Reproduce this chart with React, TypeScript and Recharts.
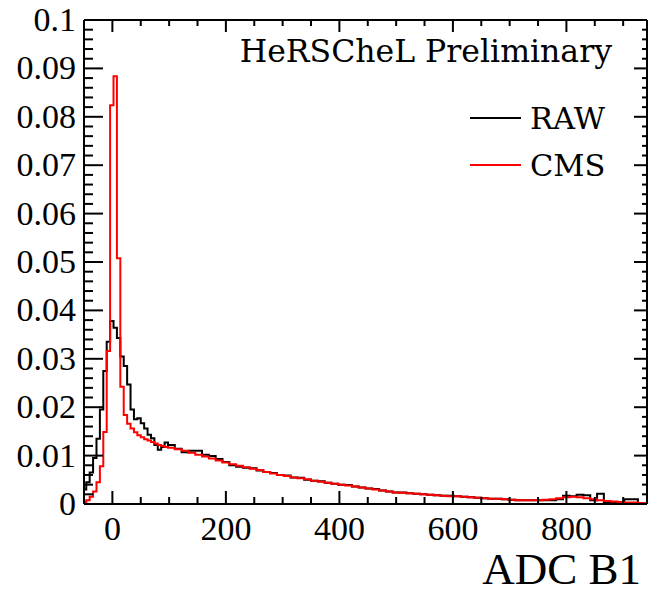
import { LineChart, Line, XAxis, YAxis } from 'recharts';

// bin left edges: 6-unit bins around the peak, 12-unit bins in the tail
const fineEdges = [-50, -46, -40, -34, -28, -22, -16, -10, -4, 2, 8, 14, 20, 26, 32, 38, 44, 50, 56, 62, 68, 74, 80, 86, 92];
const tailEdges = [
  98, 110, 122, 134, 146, 158, 170, 182, 194, 206, 218, 230, 242, 254, 266, 278, 290, 302, 314, 326,
  338, 350, 362, 374, 386, 398, 410, 422, 434, 446, 458, 470, 482, 494, 506, 518, 530, 542, 554, 566,
  578, 590, 602, 614, 626, 638, 650, 662, 674, 686, 698, 710, 722, 734, 746, 758, 770, 782, 794, 806,
  818, 830, 842, 854, 866, 878, 890, 902, 914, 926, 938,
];
const lastEdge = 942;

const rawFine = [
  0.003, 0.0045, 0.0065, 0.0095, 0.0135, 0.0195, 0.0275, 0.0335, 0.0378, 0.0364, 0.0343, 0.0305, 0.0285,
  0.0247, 0.0195, 0.0175, 0.0177, 0.0167, 0.0156, 0.0143, 0.0136, 0.0122, 0.0112, 0.0118, 0.0127,
];
const cmsFine = [
  0.0004, 0.0008, 0.0015, 0.0026, 0.0045, 0.0078, 0.0149, 0.0316, 0.0824, 0.0884, 0.0508, 0.0242, 0.0184,
  0.0166, 0.0156, 0.0148, 0.0142, 0.0138, 0.0134, 0.0131, 0.0128, 0.0125, 0.0122, 0.012, 0.0118,
];
const rawTail = [
  0.0122, 0.0114, 0.0107, 0.011, 0.011, 0.0102, 0.0099, 0.0093, 0.0087, 0.008,
  0.0077, 0.0075, 0.0074, 0.0069, 0.0066, 0.0064, 0.006, 0.0059, 0.0055, 0.0054,
  0.005, 0.0048, 0.0047, 0.0044, 0.0042, 0.004, 0.0039, 0.0036, 0.0034, 0.0032,
  0.0031, 0.0028, 0.0026, 0.0024, 0.0024, 0.0022, 0.0021, 0.002, 0.0019, 0.0018,
  0.0017, 0.0017, 0.0016, 0.0015, 0.0014, 0.0013, 0.0012, 0.0011, 0.0011, 0.001,
  0.0009, 0.0008, 0.0008, 0.0008, 0.0008, 0.0008, 0.0008, 0.001, 0.0017, 0.0016,
  0.0019, 0.0018, 0.0008, 0.0021, 0.0003, 0.0003, 0.0001, 0.001, 0.001, 0.0001,
  0.0001,
];
const cmsTail = [
  0.0116, 0.0113, 0.011, 0.0106, 0.0102, 0.0098, 0.0094, 0.009, 0.0086, 0.0082,
  0.0079, 0.0076, 0.0073, 0.007, 0.0066, 0.0063, 0.006, 0.0058, 0.0055, 0.0053,
  0.0051, 0.0048, 0.0046, 0.0044, 0.0042, 0.004, 0.0038, 0.0036, 0.0034, 0.0032,
  0.003, 0.0028, 0.0026, 0.0024, 0.0023, 0.0022, 0.0021, 0.002, 0.0019, 0.0018,
  0.0017, 0.0016, 0.0016, 0.0015, 0.0014, 0.0013, 0.0012, 0.0011, 0.0011, 0.001,
  0.0009, 0.0008, 0.0008, 0.0008, 0.0008, 0.0009, 0.001, 0.0012, 0.0014, 0.0015,
  0.0014, 0.0012, 0.001, 0.0008, 0.0006, 0.0005, 0.0004, 0.0003, 0.0003, 0.0002,
  0.0002,
];

const xMajor = [0, 200, 400, 600, 800];
const xTicks = [0, 50, 100, 150, 200, 250, 300, 350, 400, 450, 500, 550, 600, 650, 700, 750, 800, 850, 900];
const yLabels = ['0', '0.01', '0.02', '0.03', '0.04', '0.05', '0.06', '0.07', '0.08', '0.09', '0.1'];
const yTicks: number[] = [];
for (let i = 0; i <= 50; i++) yTicks.push(+(i * 0.002).toFixed(3));

const W = 652;
const H = 590;
const LEFT = 84;
const RIGHT = 647;
const TOP = 20;
const BOTTOM = 504;

const edges = [...fineEdges, ...tailEdges];
const raw = [...rawFine, ...rawTail];
const cms = [...cmsFine, ...cmsTail];
const rows = edges.map((x, i) => ({ x, raw: raw[i], cms: cms[i] }));
rows.push({ x: lastEdge, raw: raw[raw.length - 1], cms: cms[cms.length - 1] });

const serif = '"Liberation Serif", "Times New Roman", serif';
const dejavu = '"DejaVu Serif", serif';

const isYMajor = (v: number) => Math.round(v * 1000) % 10 === 0;

function BottomTick(props: any) {
  const { x, payload } = props;
  const major = xMajor.includes(payload.value);
  return (
    <g>
      <line x1={x} x2={x} y1={BOTTOM} y2={BOTTOM - (major ? 13 : 7)} stroke="#000" strokeWidth={2} />
      {major && (
        <text x={x} y={540} textAnchor="middle" fontFamily={serif} fontSize={34} fill="#000">
          {payload.value}
        </text>
      )}
    </g>
  );
}

function TopTick(props: any) {
  const { x, payload } = props;
  const major = xMajor.includes(payload.value);
  return <line x1={x} x2={x} y1={TOP} y2={TOP + (major ? 12 : 6)} stroke="#000" strokeWidth={2} />;
}

function LeftTick(props: any) {
  const { y, payload } = props;
  const major = isYMajor(payload.value);
  return (
    <g>
      <line x1={LEFT} x2={LEFT + (major ? 19 : 9)} y1={y} y2={y} stroke="#000" strokeWidth={2} />
      {major && (
        <text x={76} y={y + 11} textAnchor="end" fontFamily={serif} fontSize={34} fill="#000">
          {yLabels[Math.round(payload.value * 100)]}
        </text>
      )}
    </g>
  );
}

function RightTick(props: any) {
  const { y, payload } = props;
  const major = isYMajor(payload.value);
  return <line x1={RIGHT} x2={RIGHT - (major ? 13 : 5)} y1={y} y2={y} stroke="#000" strokeWidth={2} />;
}

const axisLine = { stroke: '#000', strokeWidth: 2 };

export default function App() {
  return (
    <div style={{ position: 'relative', width: W, height: H, background: '#fff' }}>
      <style>{'body{margin:0}'}</style>
      <LineChart width={W} height={H} data={rows} margin={{ top: 0, right: 0, bottom: 0, left: 0 }}>
        <XAxis
          xAxisId="b"
          dataKey="x"
          type="number"
          domain={[-50, lastEdge]}
          ticks={xTicks}
          interval={0}
          height={H - BOTTOM}
          axisLine={axisLine}
          tickLine={false}
          tick={BottomTick}
          allowDataOverflow
        />
        <XAxis
          xAxisId="t"
          dataKey="x"
          type="number"
          orientation="top"
          domain={[-50, lastEdge]}
          ticks={xTicks}
          interval={0}
          height={TOP}
          axisLine={axisLine}
          tickLine={false}
          tick={TopTick}
          allowDataOverflow
        />
        <YAxis
          yAxisId="l"
          type="number"
          domain={[0, 0.1]}
          ticks={yTicks}
          interval={0}
          width={LEFT}
          axisLine={axisLine}
          tickLine={false}
          tick={LeftTick}
          allowDataOverflow
        />
        <YAxis
          yAxisId="r"
          type="number"
          orientation="right"
          domain={[0, 0.1]}
          ticks={yTicks}
          interval={0}
          width={W - RIGHT}
          axisLine={axisLine}
          tickLine={false}
          tick={RightTick}
          allowDataOverflow
        />
        <Line
          xAxisId="b"
          yAxisId="l"
          dataKey="raw"
          type="stepAfter"
          stroke="#000"
          strokeWidth={2}
          dot={false}
          isAnimationActive={false}
        />
        <Line
          xAxisId="b"
          yAxisId="l"
          dataKey="cms"
          type="stepAfter"
          stroke="#ff0000"
          strokeWidth={2}
          dot={false}
          isAnimationActive={false}
        />
      </LineChart>
      <svg width={W} height={H} style={{ position: 'absolute', left: 0, top: 0, pointerEvents: 'none' }}>
        <text x={612} y={62} textAnchor="end" fontFamily={dejavu} fontSize={31.5} fill="#000">
          HeRSCheL Preliminary
        </text>
        <line x1={470} x2={521} y1={118} y2={118} stroke="#000" strokeWidth={2} />
        <text x={530} y={129} fontFamily={dejavu} fontSize={30.5} fill="#000">
          RAW
        </text>
        <line x1={470} x2={521} y1={165} y2={165} stroke="#ff0000" strokeWidth={2} />
        <text x={530} y={176} fontFamily={dejavu} fontSize={30.5} fill="#000">
          CMS
        </text>
        <text x={641} y={584} textAnchor="end" fontFamily={serif} fontSize={45} fill="#000">
          ADC B1
        </text>
      </svg>
    </div>
  );
}
